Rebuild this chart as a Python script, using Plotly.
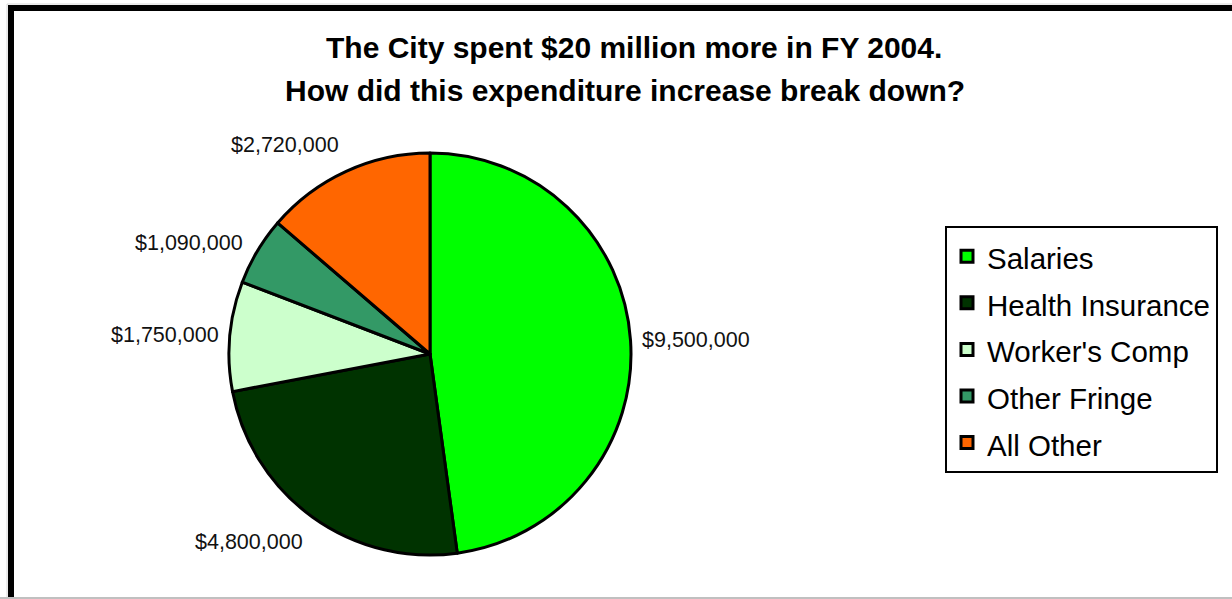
import math
import plotly.graph_objects as go

# FY 2004 expenditure increase, by category
categories = ["Salaries", "Health Insurance", "Worker's Comp", "Other Fringe", "All Other"]
amounts = [9500000, 4800000, 1750000, 1090000, 2720000]
slice_colors = ["#00FF00", "#003300", "#CCFFCC", "#339966", "#FF6600"]
title_lines = [
    "The City spent $20 million more in FY 2004.",
    "How did this expenditure increase break down?",
]
amount_labels = ["${:,}".format(v) for v in amounts]

W, H = 1232, 599
FONT = "Liberation Sans, Arial, sans-serif"

# pie geometry in pixels
CX, CY, R = 430, 354, 201
LABEL_R = 216       # labels above / below the pie
LABEL_R_SIDE = 211  # labels beside the pie


def px_x(x):
    return x / W


def px_y(y):
    return 1 - y / H


fig = go.Figure(
    go.Pie(
        labels=[
            '<span style="font-size:29.5px">{}</span>'.format(c) for c in categories
        ],
        values=amounts,
        textinfo="none",
        marker=dict(colors=slice_colors, line=dict(color="black", width=3)),
        sort=False,
        direction="clockwise",
        rotation=0,
        hovertext=amount_labels,
        hoverinfo="text",
        domain=dict(x=[px_x(CX - R), px_x(CX + R)], y=[px_y(CY + R), px_y(CY - R)]),
    )
)

# value labels just outside each slice, placed from the slice's mid angle
annotations = []
total = float(sum(amounts))
cum = 0.0
for value, text in zip(amounts, amount_labels):
    mid = (cum + value / 2.0) / total * 2 * math.pi  # clockwise from 12 o'clock
    cum += value
    dx, dy = math.sin(mid), -math.cos(mid)  # screen direction (y down)
    dist = LABEL_R_SIDE if abs(dy) < 0.3 else LABEL_R
    ax = CX + dist * dx
    ay = CY + dist * dy
    xanchor = "left" if dx >= 0 else "right"
    if dy < -0.7:
        yanchor = "bottom"
    elif dy > 0.7:
        yanchor = "top"
    else:
        yanchor = "middle"
    annotations.append(
        dict(
            text=text,
            x=px_x(ax),
            y=px_y(ay),
            xref="paper",
            yref="paper",
            xanchor=xanchor,
            yanchor=yanchor,
            showarrow=False,
            borderpad=0,
            font=dict(family=FONT, size=21.5, color="#111111"),
        )
    )

# two-line bold heading
for line, (tx, ty) in zip(title_lines, [(633.5, 47), (625, 90)]):
    annotations.append(
        dict(
            text=line,
            x=px_x(tx),
            y=px_y(ty),
            xref="paper",
            yref="paper",
            xanchor="center",
            yanchor="middle",
            showarrow=False,
            font=dict(family=FONT, size=30, color="black", weight="bold"),
        )
    )

fig.update_layout(
    width=W,
    height=H,
    margin=dict(l=0, r=0, t=0, b=0),
    paper_bgcolor="white",
    plot_bgcolor="white",
    annotations=annotations,
    showlegend=True,
    legend=dict(
        x=px_x(945),
        xanchor="left",
        y=px_y(226),
        yanchor="top",
        bgcolor="white",
        bordercolor="black",
        borderwidth=2,
        font=dict(family=FONT, size=33.5, color="black"),
        traceorder="normal",
    ),
    shapes=[
        # thin grey outer edge
        dict(type="rect", xref="paper", yref="paper",
             x0=px_x(7), x1=1.1, y0=-0.1, y1=px_y(4),
             line=dict(color="#d8d8d8", width=1), fillcolor="rgba(0,0,0,0)"),
        # heavy black chart frame
        dict(type="rect", xref="paper", yref="paper",
             x0=px_x(11), x1=1.1, y0=-0.1, y1=px_y(8),
             line=dict(color="black", width=6), fillcolor="rgba(0,0,0,0)"),
        # grey bottom edge
        dict(type="line", xref="paper", yref="paper",
             x0=0, x1=1, y0=px_y(598), y1=px_y(598),
             line=dict(color="#c0c0c0", width=2)),
    ],
)

fig.write_html("out.html")
